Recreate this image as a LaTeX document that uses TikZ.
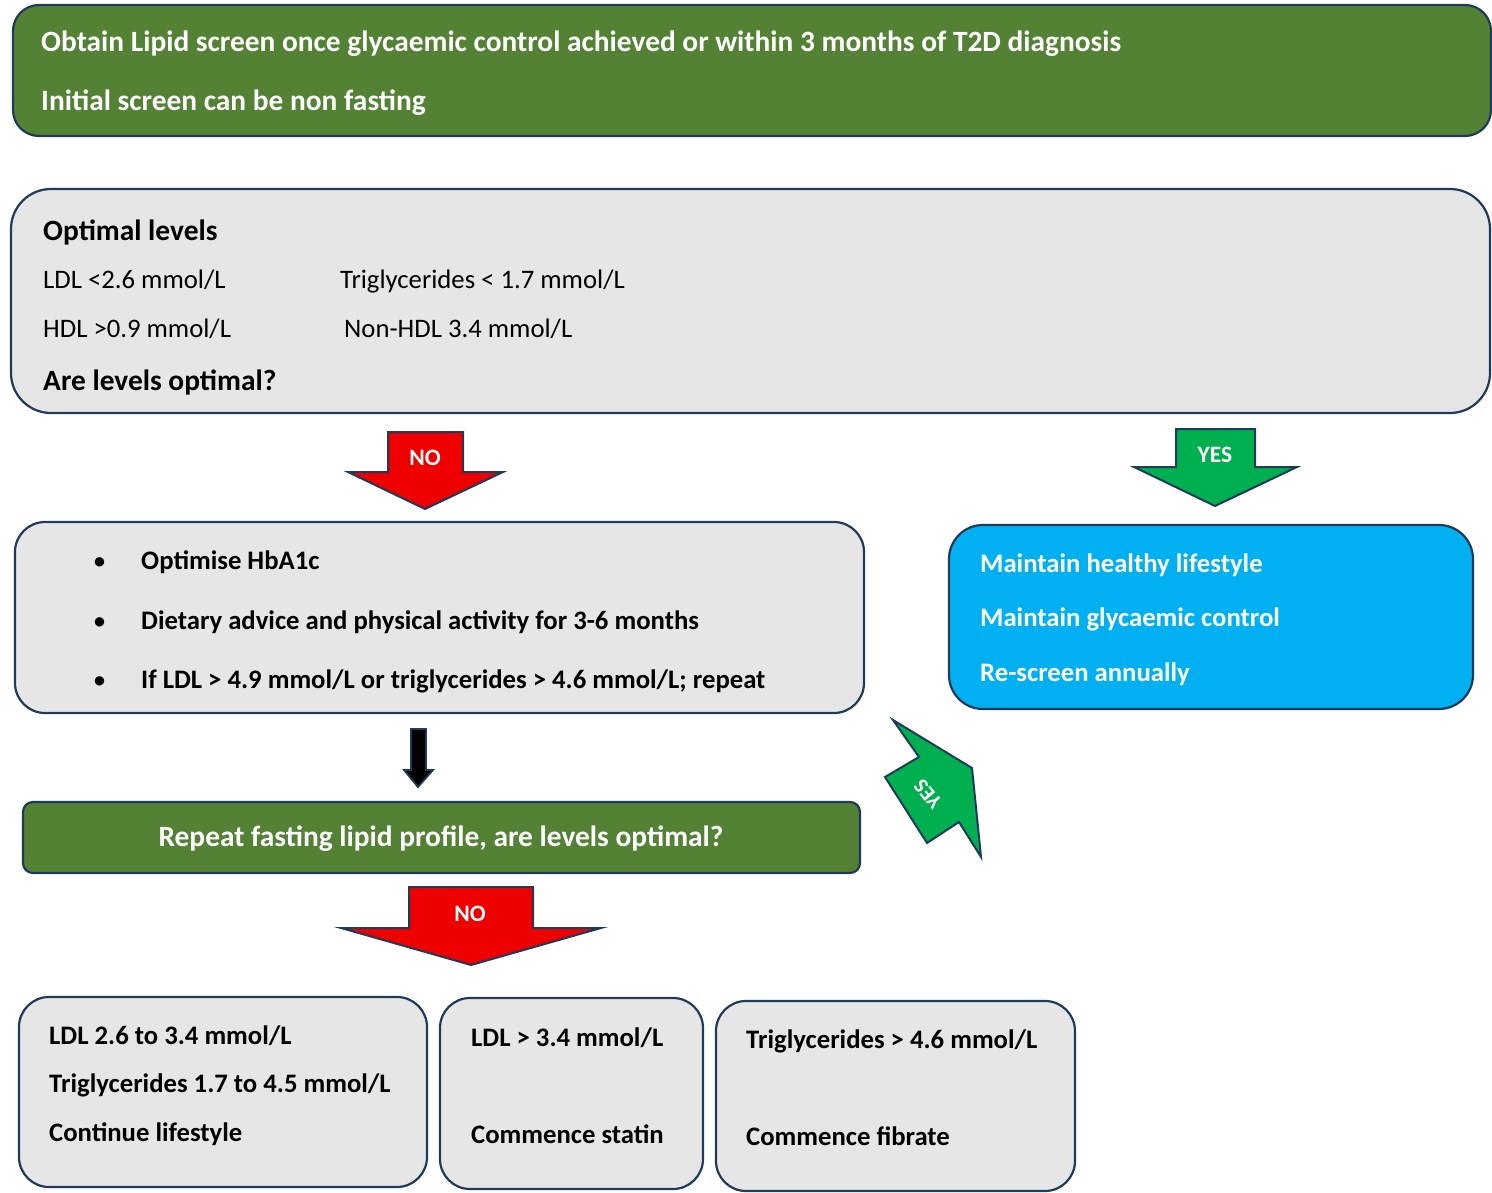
\documentclass[tikz,border=0pt]{standalone}
\usepackage{fontspec}
\setmainfont{Carlito}
\definecolor{navy}{HTML}{203A5C}
\definecolor{olive}{HTML}{548235}
\definecolor{lgray}{HTML}{E7E6E6}
\definecolor{sky}{HTML}{00B0F0}
\definecolor{yesgreen}{HTML}{00B050}
\definecolor{nored}{HTML}{EE0000}
\begin{document}
\begin{tikzpicture}[x=1pt,y=-1pt,
  box/.style={draw=navy, line width=2.2pt, inner sep=0pt},
  txt/.style={anchor=base west, inner sep=0pt, font=\fontsize{26.7}{30}\selectfont},
  btxt/.style={txt, font=\fontsize{26.7}{30}\selectfont\bfseries},
  bigtxt/.style={txt, font=\fontsize{29.4}{33}\selectfont\bfseries},
  wtxt/.style={btxt, text=white},
  arrowlbl/.style={inner sep=0pt, text=white, font=\fontsize{23.5}{26}\selectfont\bfseries},
  blockarrow/.style={draw=navy, line width=2pt, line join=miter}
]
\useasboundingbox (0,0) rectangle (1492,1193);

% top green box
\node[box, fill=olive, rounded corners=26pt, minimum width=1478pt, minimum height=131pt] (top) at (752,70.5) {};
\node[bigtxt, text=white] (t1) at (41,52) {Obtain Lipid screen once glycaemic control achieved or within 3 months of T2D diagnosis};
\node[bigtxt, text=white] (t2) at (41,111) {Initial screen can be non fasting};

% optimal levels box
\node[box, fill=lgray, rounded corners=40pt, minimum width=1479pt, minimum height=224pt] (opt) at (750.5,301) {};
\node[bigtxt] (o1) at (43,241) {Optimal levels};
\node[txt] (o2) at (43,289) {LDL <2.6 mmol/L};
\node[txt] (o3) at (340,289) {Triglycerides < 1.7 mmol/L};
\node[txt] (o4) at (43,337) {HDL >0.9 mmol/L};
\node[txt] (o5) at (344,337) {Non-HDL 3.4 mmol/L};
\node[bigtxt] (o6) at (43,390) {Are levels optimal?};

% NO arrow 1
\filldraw[blockarrow, fill=nored] (388,432) -- (463,432) -- (463,472) -- (503,472) -- (425,509) -- (348,472) -- (388,472) -- cycle;
\node[arrowlbl] (no1) at (425,458) {NO};

% YES arrow 1
\filldraw[blockarrow, fill=yesgreen] (1176,429) -- (1255,429) -- (1255,467) -- (1297,467) -- (1215,506) -- (1134,467) -- (1176,467) -- cycle;
\node[arrowlbl] (yes1) at (1215,455) {YES};

% bullet box
\node[box, fill=lgray, rounded corners=30pt, minimum width=849pt, minimum height=191pt] (bul) at (439.5,617.5) {};
\node[txt, font=\fontsize{22}{26}\selectfont\bfseries] (b1d) at (94,568) {•};
\node[btxt] (b1) at (141,569) {Optimise HbA1c};
\node[txt, font=\fontsize{22}{26}\selectfont\bfseries] (b2d) at (94,628) {•};
\node[btxt] (b2) at (141,629) {Dietary advice and physical activity for 3-6 months};
\node[txt, font=\fontsize{22}{26}\selectfont\bfseries] (b3d) at (94,687) {•};
\node[btxt] (b3) at (141,688) {If LDL > 4.9 mmol/L or triglycerides > 4.6 mmol/L; repeat};

% blue box
\node[box, fill=sky, rounded corners=34pt, minimum width=524pt, minimum height=184pt] (blue) at (1211,617) {};
\node[wtxt] (m1) at (980,572) {Maintain healthy lifestyle};
\node[wtxt] (m2) at (980,626) {Maintain glycaemic control};
\node[wtxt] (m3) at (980,681) {Re-screen annually};

% small black arrow
\filldraw[draw=navy, line width=1.8pt, fill=black] (411,729) -- (426,729) -- (426,770) -- (433,770) -- (418,787) -- (404,770) -- (411,770) -- cycle;

% green box 2
\node[box, fill=olive, rounded corners=10pt, minimum width=837pt, minimum height=71pt] (rep) at (441.5,837.5) {};
\node[inner sep=0pt, anchor=base, text=white, font=\fontsize{29.4}{33}\selectfont\bfseries] (rept) at (441,846) {Repeat fasting lipid profile, are levels optimal?};

% rotated YES arrow
\filldraw[blockarrow, fill=yesgreen] (893,720) -- (919,757) -- (885,777) -- (927,843) -- (959,822) -- (981,857) -- (972,768) -- cycle;
\node[arrowlbl, rotate=130, font=\fontsize{21}{24}\selectfont\bfseries] (yes2) at (928,794) {YES};

% NO arrow 2
\filldraw[blockarrow, fill=nored] (409,887) -- (533,887) -- (533,928) -- (601,928) -- (471,965) -- (341,928) -- (409,928) -- cycle;
\node[arrowlbl] (no2) at (470,914) {NO};

% bottom boxes
\node[box, fill=lgray, rounded corners=30pt, minimum width=408pt, minimum height=190pt] (ba) at (223,1092) {};
\node[btxt] (a1) at (49,1044) {LDL 2.6 to 3.4 mmol/L};
\node[btxt] (a2) at (49,1092) {Triglycerides 1.7 to 4.5 mmol/L};
\node[btxt] (a3) at (49,1141) {Continue lifestyle};

\node[box, fill=lgray, rounded corners=30pt, minimum width=263pt, minimum height=191pt] (bb) at (571.5,1093.5) {};
\node[btxt] (bb1) at (471,1046) {LDL > 3.4 mmol/L};
\node[btxt] (bb2) at (471,1143) {Commence statin};

\node[box, fill=lgray, rounded corners=30pt, minimum width=359pt, minimum height=190pt] (bc) at (895.5,1096) {};
\node[btxt] (c1) at (746,1048) {Triglycerides > 4.6 mmol/L};
\node[btxt] (c2) at (746,1145) {Commence fibrate};
\end{tikzpicture}
\end{document}
